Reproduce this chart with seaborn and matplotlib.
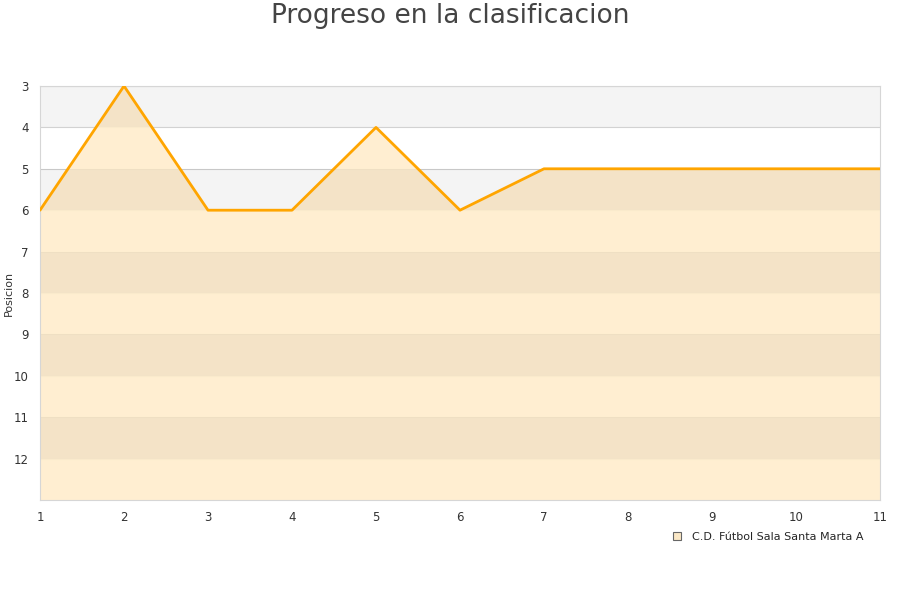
import pandas as pd
import seaborn as sns
import matplotlib.pyplot as plt
from matplotlib.patches import Patch

jornadas = [1, 2, 3, 4, 5, 6, 7, 8, 9, 10, 11]
posicion = [6, 3, 6, 6, 4, 6, 5, 5, 5, 5, 5]
equipo = "C.D. Fútbol Sala Santa Marta A"
y_ticks = [3, 4, 5, 6, 7, 8, 9, 10, 11, 12]

df = pd.DataFrame({"jornada": jornadas, "posicion": posicion})

sns.set_style("white")
plt.rcParams['font.family'] = ['DejaVu Sans']

fig = plt.figure(figsize=(9, 6), dpi=100)
ax = fig.add_axes([40 / 900, 100 / 600, 840 / 900, 414 / 600])

# grid lines under the fill, so they look tan inside the area
for t in y_ticks:
    ax.axhline(t, color="#d2d2d2", lw=0.8, zorder=0.5)

# area under the line
ax.fill_between(df["jornada"], df["posicion"], 13, color="#ffedcc", alpha=0.9, zorder=1, lw=0)

# alternating bands (dark overlay so they show on top of the fill too)
for i, lo in enumerate(range(3, 13)):
    if i % 2 == 0:
        ax.axhspan(lo, lo + 1, color="black", alpha=0.045, zorder=2, lw=0)

sns.lineplot(data=df, x="jornada", y="posicion", color="#ffa500", lw=2, ax=ax, zorder=3)

ax.set_xlim(1, 11)
ax.set_ylim(13, 3)
ax.set_xticks(jornadas)
ax.set_yticks(y_ticks)
ax.tick_params(axis="both", labelsize=8.5, colors="#333333", length=0, pad=8)
ax.set_xlabel("")
ax.set_ylabel("Posicion", fontsize=8, color="#333333")
ax.yaxis.set_label_coords(-0.031, 0.5)
for s in ["left", "bottom", "top", "right"]:
    ax.spines[s].set_color("#d6d6d6")

fig.suptitle("Progreso en la clasificacion", y=0.995, fontsize=19, color="#444444")

handle = Patch(facecolor="#fbe8c6", edgecolor="#666666", lw=0.8)
fig.legend([handle], [equipo], loc="center", bbox_to_anchor=(768 / 900, 1 - 537 / 600),
           frameon=False, fontsize=8, handlelength=0.7, handleheight=0.7, handletextpad=1.0)

fig.savefig("out.png", dpi=100)
